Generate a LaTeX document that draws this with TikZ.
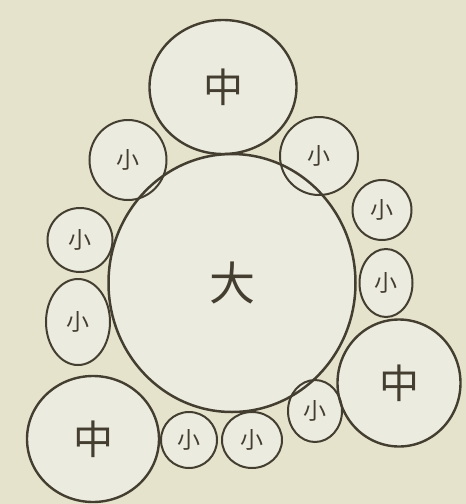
\documentclass[tikz,border=0pt]{standalone}
\usepackage{fontspec}
\newfontfamily\cjk{Noto Sans CJK SC}
\usetikzlibrary{shapes.geometric}
\definecolor{paper}{HTML}{E6E3CD}
\definecolor{inside}{HTML}{ECEBDF}
\definecolor{ink}{HTML}{433E30}
\tikzset{
  ball/.style={ellipse, inner sep=0pt, text=ink},
  fillpass/.style={draw=none, fill=inside, text opacity=0},
  drawpass/.style={draw=ink},
  big/.style={ball, line width=2.5pt, font=\cjk\fontsize{46}{46}\selectfont},
  mid/.style={ball, line width=2.4pt, font=\cjk\fontsize{40}{40}\selectfont},
  small/.style={ball, line width=2pt, font=\cjk\fontsize{23}{23}\selectfont},
}
\newcommand\circleset[2]{%
\node[small,#1, minimum width=77pt, minimum height=80pt] (#2s1) at (128,160) {小};
\node[small,#1, minimum width=78pt, minimum height=78pt] (#2s2) at (319,156) {小};
\node[small,#1, minimum width=59pt, minimum height=60pt] (#2s3) at (382,210) {小};
\node[small,#1, minimum width=53pt, minimum height=68pt] (#2s4) at (386,283) {小};
\node[small,#1, minimum width=65pt, minimum height=64pt] (#2s5) at (80,240) {小};
\node[small,#1, minimum width=64pt, minimum height=86pt] (#2s6) at (78,322) {小};
\node[small,#1, minimum width=56pt, minimum height=56pt] (#2s7) at (189,440) {小};
\node[small,#1, minimum width=60pt, minimum height=56pt] (#2s8) at (252,440) {小};
\node[small,#1, minimum width=54pt, minimum height=62pt] (#2s9) at (315,411) {小};
\node[big,#1, minimum width=247pt, minimum height=258pt] (#2L) at (232,283) {大};
\node[mid,#1, minimum width=147pt, minimum height=134pt] (#2m1) at (223,87) {中};
\node[mid,#1, minimum width=132pt, minimum height=126pt] (#2m2) at (93,439) {中};
\node[mid,#1, minimum width=123pt, minimum height=127pt] (#2m3) at (399,383) {中};
}
\begin{document}
\begin{tikzpicture}[x=1pt,y=-1pt]
\fill[paper] (0,0) rectangle (466,504);
\useasboundingbox (0,0) rectangle (466,504);
\circleset{fillpass}{f}
\circleset{drawpass}{}
\end{tikzpicture}
\end{document}
